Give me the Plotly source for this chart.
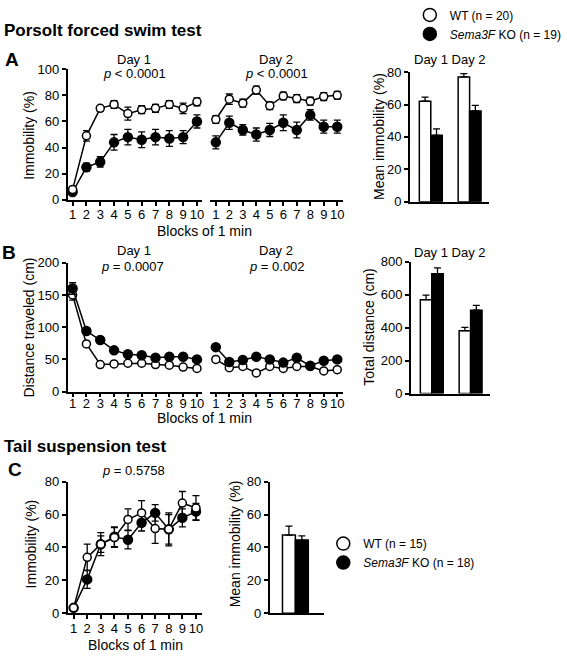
import plotly.graph_objects as go

W, H = 567, 661
FONT = "Liberation Sans, Arial, Helvetica, sans-serif"

# ---------------- data ----------------
blocks = [1, 2, 3, 4, 5, 6, 7, 8, 9, 10]
block_labels = ["1", "2", "3", "4", "5", "6", "7", "8", "9", "10"]
days = ["Day 1", "Day 2"]
tst_cat = ["TST"]

wt_name_fst = "WT (n = 20)"
ko_name_fst = "<i>Sema3F</i> KO (n = 19)"
wt_name_tst = "WT (n = 15)"
ko_name_tst = "<i>Sema3F</i> KO (n = 18)"

# A: forced swim immobility (%)
a_d1_wt = [8, 49, 70, 73, 66, 69, 70, 73, 70, 75]
a_d1_wt_err = [2, 4, 2, 3, 5, 3, 3, 3, 4, 3]
a_d1_ko = [6, 25, 29, 44, 48, 46, 48, 47, 48, 60]
a_d1_ko_err = [2, 3, 4, 6, 6, 6, 6, 6, 5, 5]
a_d2_wt = [61.5, 77, 74, 84, 72, 79.5, 77.5, 75.5, 79, 80]
a_d2_wt_err = [3, 4, 3, 3, 3, 3, 3, 3, 3, 3]
a_d2_ko = [44, 59, 53.5, 50, 53.5, 59, 53.5, 65, 56, 56]
a_d2_ko_err = [5, 5, 4, 5, 5, 6, 6, 4, 5, 5]
a_bar_wt = [62, 77]
a_bar_wt_err = [2.5, 2]
a_bar_ko = [41, 56]
a_bar_ko_err = [4, 3.5]

# B: distance traveled (cm)
b_d1_wt = [150, 74, 42, 43, 44, 44, 42, 41, 38, 36]
b_d1_wt_err = [8, 4, 2, 2, 2, 2, 2, 2, 2, 2]
b_d1_ko = [160, 94, 80, 64, 58, 56.5, 52.5, 54, 54, 50]
b_d1_ko_err = [9, 5, 4, 3, 3, 3, 3, 3, 3, 3]
b_d2_wt = [50, 37, 39, 29, 39, 36, 39, 39, 32, 34]
b_d2_wt_err = [3, 2, 2, 2, 2, 2, 2, 2, 2, 2]
b_d2_ko = [69, 46, 49, 54, 50, 45, 52.5, 40, 48, 50]
b_d2_ko_err = [4, 3, 3, 3, 3, 3, 3, 3, 3, 3]
b_bar_wt = [570, 382]
b_bar_wt_err = [28, 20]
b_bar_ko = [728, 506]
b_bar_ko_err = [35, 30]

# C: tail suspension immobility (%)
c_wt = [3.3, 34, 42, 46, 57, 61, 51.5, 51, 67, 64]
c_wt_err = [1, 8, 7, 6, 6.5, 7.5, 9, 9, 7, 7.5]
c_ko = [3.3, 20.6, 42, 46.5, 44.7, 55, 61, 51, 58, 61.8]
c_ko_err = [1, 5.5, 5, 6, 5.5, 5, 5, 10, 5.5, 5]
c_bar_wt = [47.5]
c_bar_wt_err = [5.5]
c_bar_ko = [44.5]
c_bar_ko_err = [2.5]


# ---------------- helpers ----------------
def fx(px):
    return px / W


def fy(py):
    return 1 - py / H


def line_traces(x, y, err, filled, xa, ya):
    return go.Scatter(
        x=x, y=y, xaxis=xa, yaxis=ya, mode="lines+markers",
        line=dict(color="black", width=1.5),
        marker=dict(symbol="circle", size=9 if filled else 8,
                    color="black" if filled else "white",
                    line=dict(color="black", width=1.5)),
        error_y=dict(type="data", array=err, color="black", thickness=1.3, width=3.5),
        cliponaxis=False, showlegend=False,
    )


def bar_trace(x, y, err, filled, xa, ya, name):
    return go.Bar(
        x=x, y=y, xaxis=xa, yaxis=ya, name=name,
        marker=dict(color="black" if filled else "white",
                    line=dict(color="black", width=1.5)),
        error_y=dict(type="data", symmetric=False, array=err,
                     arrayminus=[0] * len(err), color="black",
                     thickness=1.3, width=3.5),
        showlegend=False,
    )


fig = go.Figure()

# Panel A
fig.add_trace(line_traces(blocks, a_d1_ko, a_d1_ko_err, True, "x", "y"))
fig.add_trace(line_traces(blocks, a_d1_wt, a_d1_wt_err, False, "x", "y"))
fig.add_trace(line_traces(blocks, a_d2_ko, a_d2_ko_err, True, "x2", "y"))
fig.add_trace(line_traces(blocks, a_d2_wt, a_d2_wt_err, False, "x2", "y"))
fig.add_trace(bar_trace(days, a_bar_wt, a_bar_wt_err, False, "x3", "y3", wt_name_fst))
fig.add_trace(bar_trace(days, a_bar_ko, a_bar_ko_err, True, "x3", "y3", ko_name_fst))

# Panel B
fig.add_trace(line_traces(blocks, b_d1_wt, b_d1_wt_err, False, "x4", "y4"))
fig.add_trace(line_traces(blocks, b_d1_ko, b_d1_ko_err, True, "x4", "y4"))
fig.add_trace(line_traces(blocks, b_d2_wt, b_d2_wt_err, False, "x5", "y4"))
fig.add_trace(line_traces(blocks, b_d2_ko, b_d2_ko_err, True, "x5", "y4"))
fig.add_trace(bar_trace(days, b_bar_wt, b_bar_wt_err, False, "x6", "y6", wt_name_fst))
fig.add_trace(bar_trace(days, b_bar_ko, b_bar_ko_err, True, "x6", "y6", ko_name_fst))

# Panel C
fig.add_trace(line_traces(blocks, c_ko, c_ko_err, True, "x7", "y7"))
fig.add_trace(line_traces(blocks, c_wt, c_wt_err, False, "x7", "y7"))
fig.add_trace(bar_trace(tst_cat, c_bar_wt, c_bar_wt_err, False, "x8", "y8", wt_name_tst))
fig.add_trace(bar_trace(tst_cat, c_bar_ko, c_bar_ko_err, True, "x8", "y8", ko_name_tst))

# Legend-only marker entries
for name, filled, lg in [(wt_name_fst, False, "legend"), (ko_name_fst, True, "legend"),
                         (wt_name_tst, False, "legend2"), (ko_name_tst, True, "legend2")]:
    fig.add_trace(go.Scatter(
        x=[None], y=[None], xaxis="x", yaxis="y", mode="markers", name=name,
        marker=dict(symbol="circle", size=13, color="black" if filled else "white",
                    line=dict(color="black", width=1.5)),
        showlegend=True, legend=lg,
    ))

# ---------------- axes ----------------
axis_line = dict(showline=True, linecolor="black", linewidth=1.5, showgrid=False,
                 zeroline=False, ticks="outside", ticklen=4, tickwidth=1.5,
                 tickcolor="black", tickfont=dict(size=13, color="black", family=FONT))


def xline(d0, d1, r, anchor, standoff=0):
    return dict(axis_line, domain=[fx(d0), fx(d1)], range=r, anchor=anchor,
                tickmode="array", tickvals=blocks, ticktext=block_labels,
                ticklabelstandoff=standoff)


def xbar(d0, d1, r, anchor):
    return dict(showline=True, linecolor="black", linewidth=1.5, showgrid=False,
                zeroline=False, ticks="", showticklabels=False,
                domain=[fx(d0), fx(d1)], range=r, anchor=anchor, type="category")


def yax(top, bot, r, dtick, anchor):
    return dict(axis_line, domain=[fy(bot), fy(top)], range=r, dtick=dtick,
                anchor=anchor, tick0=0)


fig.update_layout(
    xaxis=xline(68, 203, [0.64, 10.36], "y", -2),
    xaxis2=xline(211, 345, [0.56, 10.44], "y", -2),
    yaxis=yax(58, 193, [0, 100], 20, "x"),
    xaxis3=xbar(412, 492, [-0.54, 1.51], "y3"),
    yaxis3=yax(61, 195, [0, 80], 20, "x3"),
    xaxis4=xline(68, 203, [0.64, 10.36], "y4", -5),
    xaxis5=xline(211, 345, [0.56, 10.44], "y4", -5),
    yaxis4=yax(258, 391, [0, 200], 50, "x4"),
    xaxis6=xbar(413, 493, [-0.54, 1.51], "y6"),
    yaxis6=yax(257, 393, [0, 800], 200, "x6"),
    xaxis7=xline(68, 203, [0.56, 10.44], "y7", -2),
    yaxis7=yax(484, 620, [0, 80], 20, "x7"),
    xaxis8=xbar(271, 326, [-0.59, 0.66], "y8"),
    yaxis8=yax(484, 620, [0, 80], 20, "x8"),
)

# ---------------- text ----------------
anns = []


def ann(text, px, py, size=13, bold=False, angle=0, xanchor="center"):
    anns.append(dict(
        text=f"<b>{text}</b>" if bold else text, x=fx(px), y=fy(py),
        xref="paper", yref="paper", showarrow=False, xanchor=xanchor,
        yanchor="middle", textangle=angle,
        font=dict(size=size, color="black", family=FONT),
    ))


ann("Porsolt forced swim test", 2, 18, 17, True, xanchor="left")
ann("A", 12, 48, 19, True)
ann("B", 9, 247, 19, True)
ann("Tail suspension test", 2, 448, 17, True, xanchor="left")
ann("C", 15, 471, 19, True)

ann("Day 1", 135, 48)
ann("<i>p</i> < 0.0001", 135, 63)
ann("Day 2", 277, 48)
ann("<i>p</i> < 0.0001", 278, 63)
ann("Day 1 Day 2", 452, 48)

ann("Day 1", 135, 245)
ann("<i>p</i> = 0.0007", 133, 262)
ann("Day 2", 277, 245)
ann("<i>p</i> = 0.002", 278, 262)
ann("Day 1 Day 2", 452, 247)

ann("<i>p</i> = 0.5758", 134, 473)

ann("Blocks of 1 min", 206, 225, 14)
ann("Blocks of 1 min", 206, 418, 14)
ann("Blocks of 1 min", 136, 653, 14)

ann("Immobility (%)", 29, 126, 14, angle=-90)
ann("Mean immobility (%)", 381, 127, 14, angle=-90)
ann("Distance traveled (cm)", 29, 325, 14, angle=-90)
ann("Total distance (cm)", 371, 325, 14, angle=-90)
ann("Immobility (%)", 31, 548, 14, angle=-90)
ann("Mean immobility (%)", 236, 548, 14, angle=-90)

fig.update_layout(
    annotations=anns,
    width=W, height=H,
    margin=dict(l=0, r=0, t=0, b=0),
    paper_bgcolor="white", plot_bgcolor="white",
    font=dict(family=FONT, color="black", size=13),
    barmode="group", bargap=0.41, bargroupgap=0,
    legend=dict(x=fx(412), y=fy(-13), xanchor="left", yanchor="top",
                bgcolor="rgba(0,0,0,0)", font=dict(size=12, family=FONT, color="black"),
                itemsizing="trace", tracegroupgap=0),
    legend2=dict(x=fx(325), y=fy(533), xanchor="left", yanchor="top",
                 bgcolor="rgba(0,0,0,0)", font=dict(size=12, family=FONT, color="black"),
                 itemsizing="trace", tracegroupgap=0),
)

fig.write_html("out.html", config={"displayModeBar": False},
               post_script="document.body.style.margin='0';")
